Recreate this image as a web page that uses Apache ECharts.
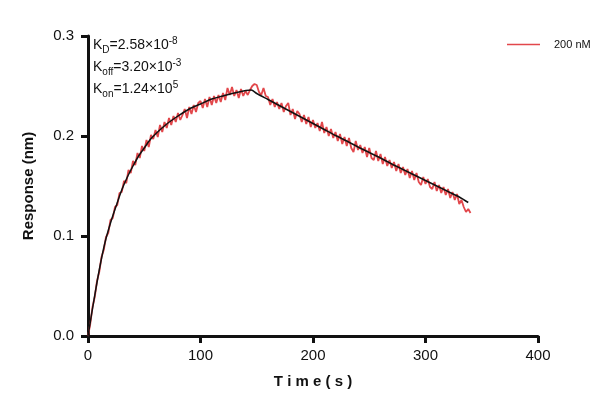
<!DOCTYPE html>
<html>
<head>
<meta charset="utf-8">
<script src="https://cdn.jsdelivr.net/npm/echarts@6/dist/echarts.min.js"></script>
<style>
  html, body { margin: 0; padding: 0; background: #fff; }
  #chart { width: 616px; height: 412px; }
</style>
</head>
<body>
<div id="chart"></div>
<script>
// measured response, one value every 2 s from 0 to 340 s
const rawStep = 2;
const rawValues = [
  0.000, 0.012, 0.029, 0.039, 0.055, 0.064, 0.079, 0.086, 0.099, 0.103,
  0.116, 0.118, 0.129, 0.131, 0.143, 0.144, 0.155, 0.153, 0.166, 0.163,
  0.175, 0.171, 0.183, 0.178, 0.190, 0.185, 0.196, 0.189, 0.201, 0.197,
  0.206, 0.199, 0.211, 0.204, 0.214, 0.208, 0.218, 0.211, 0.220, 0.214,
  0.223, 0.216, 0.221, 0.227, 0.218, 0.229, 0.222, 0.231, 0.224, 0.233,
  0.235, 0.228, 0.237, 0.229, 0.239, 0.231, 0.240, 0.233, 0.241, 0.234,
  0.243, 0.236, 0.248, 0.241, 0.249, 0.240, 0.246, 0.238, 0.247, 0.240,
  0.245, 0.241, 0.246, 0.250, 0.252, 0.251, 0.244, 0.241, 0.248, 0.240,
  0.239, 0.231, 0.237, 0.229, 0.234, 0.227, 0.233, 0.224, 0.230, 0.233,
  0.221, 0.227, 0.217, 0.225, 0.222, 0.214, 0.221, 0.212, 0.219, 0.209,
  0.216, 0.208, 0.213, 0.205, 0.214, 0.203, 0.209, 0.200, 0.207, 0.198,
  0.204, 0.195, 0.202, 0.192, 0.199, 0.190, 0.198, 0.188, 0.184, 0.195,
  0.186, 0.191, 0.183, 0.189, 0.179, 0.188, 0.178, 0.176, 0.185, 0.175,
  0.182, 0.172, 0.179, 0.170, 0.176, 0.168, 0.174, 0.165, 0.172, 0.163,
  0.169, 0.161, 0.167, 0.158, 0.165, 0.156, 0.163, 0.154, 0.151, 0.159,
  0.152, 0.157, 0.149, 0.147, 0.154, 0.145, 0.151, 0.143, 0.149, 0.141,
  0.147, 0.138, 0.144, 0.136, 0.142, 0.132, 0.136, 0.129, 0.124, 0.127,
  0.123
];

// fitted curve
const fitTimes = [0, 5, 10, 15, 20, 25, 30, 35, 40, 45, 50, 55, 60, 70, 80, 90, 100, 110, 120, 130, 145,
  150, 160, 170, 180, 190, 200, 210, 220, 230, 240, 250, 260, 270, 280, 290, 300, 310, 320, 330, 338];
const fitValues = [0, 0.034, 0.066, 0.093, 0.113, 0.130, 0.146, 0.159, 0.170, 0.180, 0.188, 0.196, 0.202,
  0.212, 0.220, 0.227, 0.232, 0.237, 0.240, 0.243, 0.246,
  0.2425, 0.2365, 0.2305, 0.2245, 0.2185, 0.2125, 0.2065, 0.2005, 0.195, 0.189, 0.1835, 0.178, 0.172,
  0.1665, 0.161, 0.1555, 0.150, 0.1445, 0.139, 0.1335];

const seriesName = '200 nM';
const kineticLines = [
  ['K', 'D', '=2.58×10', '-8'],
  ['K', 'off', '=3.20×10', '-3'],
  ['K', 'on', '=1.24×10', '5']
];

const font = 'Arial, "Liberation Sans", sans-serif';
const red = '#e2474b';
const rawData = rawValues.map((v, i) => [i * rawStep, v]);
const fitData = fitTimes.map((t, i) => [t, fitValues[i]]);

const chart = echarts.init(document.getElementById('chart'));
chart.setOption({
  animation: false,
  backgroundColor: '#fff',
  grid: { left: 88, right: 78, top: 36, bottom: 76 },
  legend: {
    left: 502,
    top: 34,
    icon: 'rect',
    itemWidth: 33,
    itemHeight: 1.5,
    data: [seriesName],
    textStyle: { fontFamily: font, fontSize: 11, color: '#111', padding: [0, 0, 0, 9] }
  },
  xAxis: {
    type: 'value',
    min: 0,
    max: 400,
    interval: 100,
    name: 'T i m e ( s )',
    nameLocation: 'middle',
    nameGap: 38,
    nameTextStyle: { fontFamily: font, fontSize: 15, fontWeight: 'bold', color: '#111' },
    axisLine: { onZero: false, lineStyle: { color: '#111', width: 3 } },
    axisTick: { length: 7, lineStyle: { color: '#111', width: 3 } },
    axisLabel: { margin: 12, fontFamily: font, fontSize: 15, color: '#111' },
    splitLine: { show: false }
  },
  yAxis: {
    type: 'value',
    min: 0,
    max: 0.3,
    interval: 0.1,
    name: 'Response (nm)',
    nameLocation: 'middle',
    nameGap: 52,
    nameTextStyle: { fontFamily: font, fontSize: 15, fontWeight: 'bold', color: '#111' },
    axisLine: { show: true, onZero: false, lineStyle: { color: '#111', width: 3 } },
    axisTick: { show: true, length: 7, lineStyle: { color: '#111', width: 3 } },
    axisLabel: { margin: 14, fontFamily: font, fontSize: 15, color: '#111', formatter: v => v.toFixed(1) },
    splitLine: { show: false }
  },
  graphic: kineticLines.map((k, i) => ({
    type: 'text',
    left: 93,
    top: 34 + i * 22,
    style: {
      text: `{n|${k[0]}}{sub|${k[1]}}{n|${k[2]}}{sup|${k[3]}}`,
      fill: '#111',
      rich: {
        n: { fontFamily: font, fontSize: 14, lineHeight: 22, fill: '#111' },
        sub: { fontFamily: font, fontSize: 10, lineHeight: 10, verticalAlign: 'bottom', padding: [0, 0, 1, 0], fill: '#111' },
        sup: { fontFamily: font, fontSize: 10, lineHeight: 10, verticalAlign: 'top', padding: [2, 0, 0, 0], fill: '#111' }
      }
    }
  })),
  series: [
    {
      name: seriesName,
      type: 'line',
      symbol: 'none',
      data: rawData,
      lineStyle: { color: red, width: 1.8 },
      itemStyle: { color: red },
      z: 2
    },
    {
      name: 'fit',
      type: 'line',
      symbol: 'none',
      smooth: 0.3,
      data: fitData,
      lineStyle: { color: '#111', width: 1.5 },
      itemStyle: { color: '#111' },
      z: 3
    }
  ]
});
</script>
</body>
</html>
